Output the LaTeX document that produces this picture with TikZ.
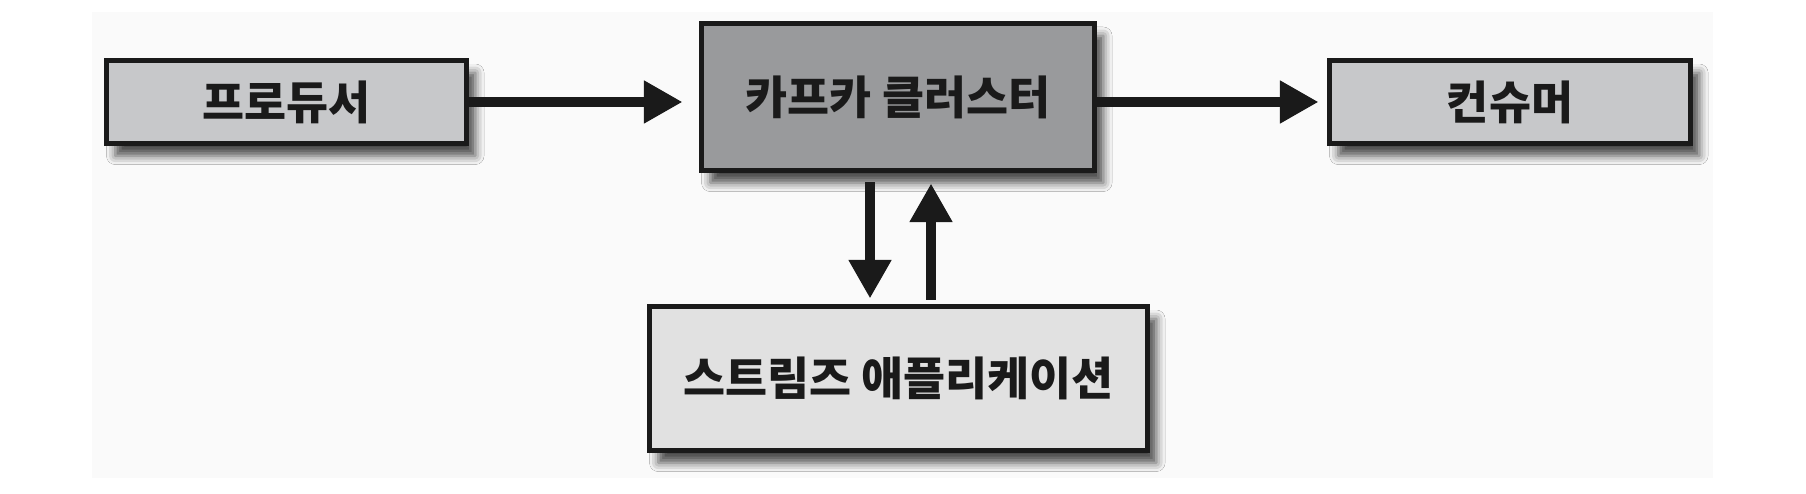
\documentclass[tikz,border=0pt]{standalone}
\usepackage{fontspec}
\newfontfamily\kor{Noto Sans CJK KR Black}
\usepackage{tikz}
\usetikzlibrary{arrows.meta,shadows.blur}
\definecolor{boxlight}{HTML}{C7C8CA}
\definecolor{boxdark}{HTML}{999A9C}
\definecolor{boxpale}{HTML}{E1E1E1}
\definecolor{ink}{HTML}{1A1A1A}
\definecolor{paper}{HTML}{FAFAFA}

\begin{document}
\begin{tikzpicture}[>={Triangle[length=22pt,width=23pt]},
  box/.style={draw=ink, line width=2.8pt, inner sep=0pt, text=ink,
    font=\kor\fontsize{26}{30}\selectfont,
    blur shadow={shadow xshift=5pt, shadow yshift=-7pt, shadow blur radius=5pt, shadow opacity=70}},
  flow/.style={draw=ink, line width=5.7pt}]
\useasboundingbox (0,0) rectangle (36.12,9.88);
\fill[white] (0,0) rectangle (36.12,9.88);
\fill[paper] (1.84,0.32) rectangle (34.26,9.64);
\node[box, fill=boxlight, minimum width=7.2cm, minimum height=1.66cm] (producer) at (5.73,7.84) {프로듀서};
\node[box, fill=boxdark, minimum width=7.86cm, minimum height=2.94cm] (kafka) at (17.96,7.94) {카프카 클러스터};
\node[box, fill=boxlight, minimum width=7.22cm, minimum height=1.66cm] (consumer) at (30.2,7.84) {컨슈머};
\node[box, fill=boxpale, minimum width=9.96cm, minimum height=2.88cm] (streams) at (17.97,2.31) {스트림즈 애플리케이션};
\draw[flow, ->, shorten >=0.33cm] (producer.east) -- (producer.east -| kafka.west);
\draw[flow, ->, shorten >=0.17cm] (kafka.east |- consumer) -- (consumer.west);
\draw[flow, ->, shorten <=0.19cm, shorten >=0.11cm] ([xshift=-0.56cm]kafka.south) -- ([xshift=-0.56cm]kafka.south |- streams.north);
\draw[flow, ->, shorten <=0.09cm, shorten >=0.21cm] ([xshift=0.66cm]kafka.south |- streams.north) -- ([xshift=0.66cm]kafka.south);
\end{tikzpicture}
\end{document}
